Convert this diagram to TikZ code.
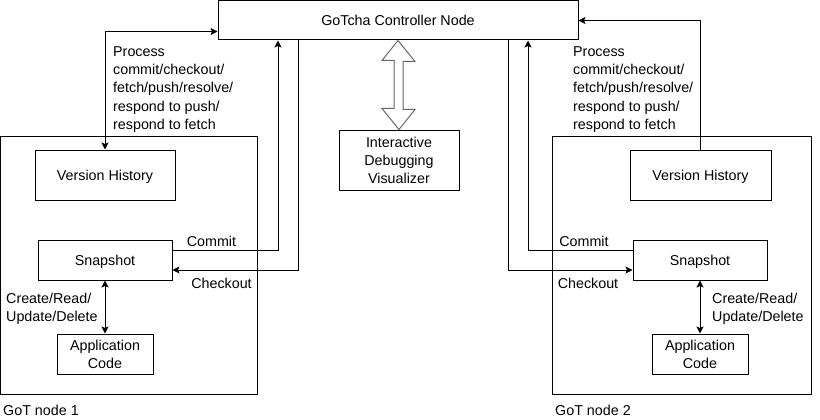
\documentclass[tikz,border=0pt]{standalone}
\usepackage{fontspec}
\setmainfont{Liberation Sans}
\usetikzlibrary{arrows.meta}
\begin{document}
\begin{tikzpicture}[x=1pt,y=-1pt,
  box/.style={draw=black,line width=1pt,fill=white,inner sep=0pt,align=center,text depth=0pt,font=\fontsize{14.3}{18}\selectfont},
  lbl/.style={inner sep=0pt,align=left,font=\fontsize{14.3}{18.2}\selectfont},
  conn/.style={draw=black,line width=1pt,arrows={-Stealth[length=7pt,width=7pt,inset=1.5pt]}},
  dconn/.style={draw=black,line width=1pt,arrows={Stealth[length=7pt,width=7pt,inset=1.5pt]-Stealth[length=7pt,width=7pt,inset=1.5pt]}}
]
\useasboundingbox[fill=white] (0,0) rectangle (820,420);
% containers
\node[box,minimum width=257pt,minimum height=258pt] (outerL) at (129,265) {};
\node[box,minimum width=259pt,minimum height=258pt] (outerR) at (681.5,265) {};
% controller
\node[box,minimum width=360pt,minimum height=39pt] (ctrl) at (398,20.5) {GoTcha Controller Node};
\node[box,minimum width=120pt,minimum height=60pt] (vis) at (399,160) {Interactive\\Debugging\\Visualizer};
% left GoT node
\node[box,minimum width=140pt,minimum height=50pt] (vhL) at (105,175) {Version History};
\node[box,minimum width=134pt,minimum height=40pt] (snapL) at (105,260) {Snapshot};
\node[box,minimum width=96pt,minimum height=40pt] (appL) at (105,354) {Application\\Code};
% right GoT node
\node[box,minimum width=141pt,minimum height=50pt] (vhR) at (700.5,175) {Version History};
\node[box,minimum width=134pt,minimum height=40pt] (snapR) at (700,260) {Snapshot};
\node[box,minimum width=96pt,minimum height=40pt] (appR) at (700,354) {Application\\Code};
% hollow double arrow
\draw[line width=1pt,draw=black!60,fill=white]
  (ctrl.south) -- ++(17,21) -- ++(-12,0) -- ++(0,48) -- ++(12,0) -- (vis.north)
  -- ++(-17,-21) -- ++(12,0) -- ++(0,-48) -- ++(-12,0) -- cycle;
% process connectors
\draw[dconn] (vhL.north) |- ([yshift=-11pt]ctrl.west);
\draw[conn] (vhR.north) |- (ctrl.east);
% commit / checkout left
\draw[conn] ([yshift=10pt]snapL.east) -| ([xshift=-120pt]ctrl.south);
\draw[conn] ([xshift=-100pt]ctrl.south) |- ([yshift=-10pt]snapL.east);
% commit / checkout right
\draw[conn] ([yshift=10pt]snapR.west) -| ([xshift=130pt]ctrl.south);
\draw[conn] ([xshift=110pt]ctrl.south) |- ([yshift=-10pt]snapR.west);
% CRUD
\draw[dconn] (snapL) -- (appL);
\draw[dconn] (snapR) -- (appR);
% labels
\node[lbl,anchor=north west] (procL) at (113,46.5) {Process\\commit/checkout/\\fetch/push/resolve/\\respond to push/\\respond to fetch};
\node[lbl,anchor=north west] (procR) at (573,46.5) {Process\\commit/checkout/\\fetch/push/resolve/\\respond to push/\\respond to fetch};
\node[lbl] (comL) at (211.5,241.5) {Commit};
\node[lbl] (coL) at (221.5,283.5) {Checkout};
\node[lbl] (comR) at (584,241.5) {Commit};
\node[lbl] (coR) at (588,283.5) {Checkout};
\node[lbl,anchor=west] (crudL) at (6,308.5) {Create/Read/\\Update/Delete};
\node[lbl,anchor=west] (crudR) at (712,308.5) {Create/Read/\\Update/Delete};
\node[lbl,anchor=west] (gotL) at (3,410.5) {GoT node 1};
\node[lbl,anchor=west] (gotR) at (555,410.5) {GoT node 2};
\end{tikzpicture}
\end{document}
